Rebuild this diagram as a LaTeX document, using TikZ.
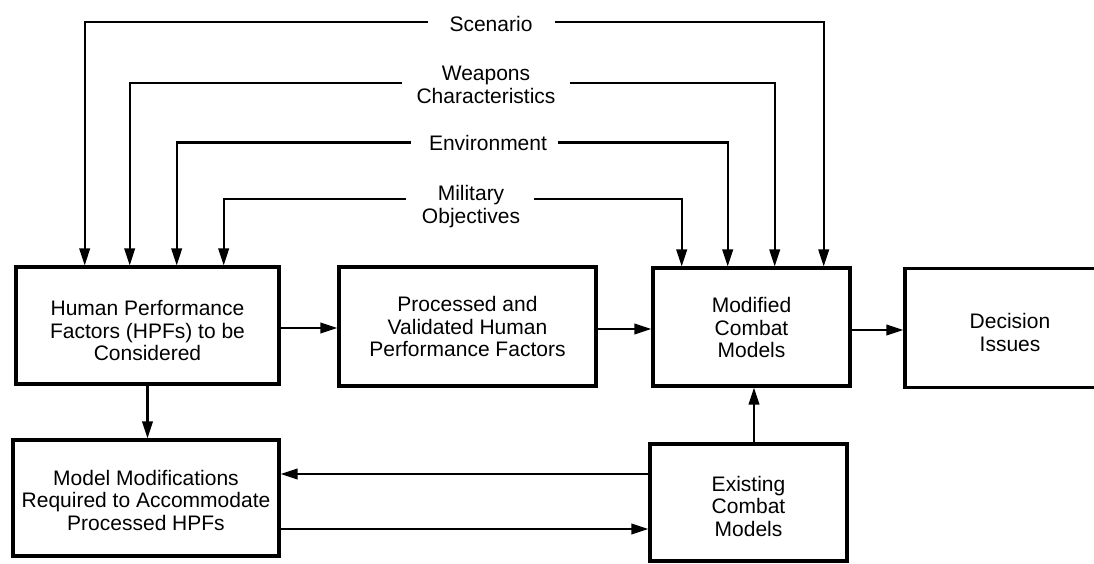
\documentclass[tikz,border=0pt]{standalone}
\usepackage{fontspec}
\setmainfont{Liberation Sans}
\usetikzlibrary{arrows.meta}
\newcommand{\diagfont}{\fontsize{21}{22.5}\selectfont}
% invisible strut on a first line, pushing a block of lines down inside its box
\newcommand{\toppad}[1]{\rule{0pt}{#1}}
\begin{document}
\begin{tikzpicture}[x=1pt,y=-1pt,
  box/.style={draw, line width=3.2pt, align=center, inner sep=0pt, font=\diagfont},
  lbl/.style={inner sep=0pt, align=center, font=\diagfont},
  conn/.style={line width=2.2pt, -{Triangle[length=17pt,width=10.5pt]}}]
\useasboundingbox[fill=white] (0,0) rectangle (1094,563);

% main boxes
\node[box, minimum width=263pt, minimum height=117pt] (hpf)  at (147.5,325.5) {\toppad{25.5pt}Human Performance\\Factors (HPFs) to be\\Considered};
\node[box, minimum width=257pt, minimum height=119pt] (proc) at (467.5,326.5) {Processed and\\Validated Human\\Performance Factors};
\node[box, minimum width=197pt, minimum height=118pt] (mod)  at (751.5,327)   {\toppad{17pt}Modified\\Combat\\Models};
\node[box, minimum width=210pt, minimum height=119pt] (dec)  at (1010,328)    {\toppad{24pt}Decision\\Issues};
\node[box, minimum width=266pt, minimum height=116pt] (mmr)  at (146,498)     {\toppad{19.5pt}Model Modifications\\Required to Accommodate\\Processed HPFs};
\node[box, minimum width=197pt, minimum height=117pt] (ecm)  at (748.5,502.5) {\toppad{22.5pt}Existing\hspace{7pt}\\Combat\hspace{7pt}\\Models\hspace{7pt}};

% input labels
\node[lbl] (scen) at (491,24)  {Scenario};
\node[lbl] (weap) at (486,85)  {Weapons\\Characteristics};
\node[lbl] (env)  at (488,143) {Environment};
\node[lbl] (mil)  at (471,206.5) {Military\\Objectives};

% ends of the feed lines beside the labels
\coordinate (scL) at (428,22);    \coordinate (scR) at (555,22);
\coordinate (weL) at (402,83);    \coordinate (weR) at (570,83);
\coordinate (enL) at (411,142.5); \coordinate (enR) at (558,142.5);
\coordinate (miL) at (406,199);   \coordinate (miR) at (534,199);

% feeds into the HPF box
\draw[conn] (scL) -| ([xshift=70.3pt]hpf.north west);
\draw[conn] (weL) -| ([xshift=115.3pt]hpf.north west);
\draw[conn] (enL) -| ([xshift=162.3pt]hpf.north west);
\draw[conn] (miL) -| ([xshift=209.3pt]hpf.north west);

% feeds into the modified combat models
\draw[conn] (miR) -| ([xshift=30.3pt]mod.north west);
\draw[conn] (enR) -| ([xshift=76.3pt]mod.north west);
\draw[conn] (weR) -| ([xshift=123.3pt]mod.north west);
\draw[conn] (scR) -| ([xshift=172.3pt]mod.north west);

% flow between boxes
\coordinate (h1) at ([yshift=-2.5pt]hpf.east);
\draw[conn] (h1) -- (h1 -| proc.west);
\coordinate (p1) at ([yshift=-2.5pt]proc.east);
\draw[conn] (p1) -- (p1 -| mod.west);
\coordinate (d1) at ([yshift=-3pt]mod.east);
\draw[conn] (d1) -- (d1 -| dec.west);
\draw[conn] (hpf.south) -- (hpf.south |- mmr.north);
\coordinate (e0) at ([xshift=5.5pt]ecm.north);
\draw[conn] (e0) -- (e0 |- mod.south);
\coordinate (e1) at ([yshift=28.5pt]ecm.west);
\draw[conn] (e1) -- (e1 -| mmr.east);
\coordinate (m1) at ([yshift=-31pt]mmr.east);
\draw[conn] (m1) -- (m1 -| ecm.west);
\end{tikzpicture}
\end{document}
